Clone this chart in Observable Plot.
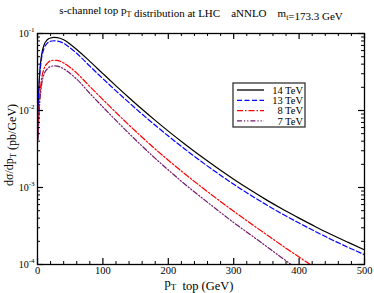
<!DOCTYPE html>
<html><head><meta charset="utf-8">
<script src="https://cdn.jsdelivr.net/npm/d3@7"></script>
<script src="https://cdn.jsdelivr.net/npm/@observablehq/plot@0.6"></script>
<style>
body{margin:0;background:#fff}
#chart svg{font-family:"Liberation Serif","Times New Roman",serif;}
</style>
</head><body><div id="chart"></div>
<script>
// ---- data ----
const pT = [1,2,3,5,7,10,15,20,25,30,40,50,60,80,100,120,140,160,180,200,225,250,275,300,325,350,375,400,425,450,475,500];
const tev14 = [0.010,0.019,0.028,0.044,0.057,0.071,0.083,0.0875,0.0888,0.0885,0.083,0.0725,0.062,0.0435,0.0301,0.0209,0.01466,0.01038,0.00745,0.0054,0.00367,0.00254,0.00179,0.00128,0.000932,0.000691,0.000521,0.0004,0.00031,0.000244,0.000194,0.000155];
const tev13 = [0.0092,0.0175,0.0255,0.040,0.052,0.064,0.075,0.0793,0.0805,0.080,0.0745,0.065,0.0553,0.0377,0.0259,0.018,0.01265,0.00895,0.00643,0.00466,0.00317,0.00219,0.00154,0.0011,0.000804,0.000596,0.00045,0.000345,0.000268,0.00021,0.000167,0.000134];
const tev8  = [0.005,0.009,0.0135,0.021,0.028,0.035,0.041,0.0442,0.0450,0.0447,0.0415,0.0362,0.0306,0.0205,0.01387,0.00942,0.00646,0.00449,0.00316,0.00226,0.00151,0.001027,0.000706,0.000491,0.000346,0.000245,0.000174,0.000125,0.00009,0.000065,null,null];
const tev7  = [0.0042,0.0076,0.0113,0.0177,0.0235,0.0295,0.0347,0.0372,0.0379,0.0376,0.0348,0.0302,0.0255,0.0167,0.0111,0.00743,0.00502,0.00344,0.00239,0.00169,0.00111,0.00075,0.00051,0.00035,0.000246,0.000172,0.00012,0.000084,null,null,null,null];
const seriesNames = ["14 TeV","13 TeV","8 TeV","7 TeV"];
const seriesValues = [tev14, tev13, tev8, tev7];
const seriesColors = ["#000000","#0000ff","#ff0000","#731c6b"];
const seriesDash = [null,"5,2.5","6,2,1.5,2","5,2,1.2,2,1.2,2"];
const xMajor = [0,100,200,300,400,500];
const xMinor = d3.range(0,501,20).filter(d=>d%100!==0);
const yMajor = [1e-4,1e-3,1e-2,1e-1];
const yMajorLabels = ["10^-4","10^-3","10^-2","10^-1"];
const yMinor = [1e-4,1e-3,1e-2].flatMap(b=>[2,3,4,5,6,7,8,9].map(k=>k*b));

// ---- layout ----
const W=374,H=293,mL=37,mR=10,mT=33,mB=29;
const fw=W-mL-mR, fh=H-mT-mB;

const rows=[];
seriesNames.forEach((n,i)=>pT.forEach((p,j)=>{const v=seriesValues[i][j]; if(v!=null) rows.push({pT:p,v,series:n});}));

const lineMarks = seriesNames.map((n,i)=>Plot.line(rows.filter(r=>r.series===n),{
  x:"pT", y:"v", stroke:seriesColors[i], strokeWidth:1.2,
  strokeDasharray:seriesDash[i]||undefined, curve:"monotone-x", clip:true
}));

const plot = Plot.plot({
  width:W, height:H, marginLeft:mL, marginRight:mR, marginTop:mT, marginBottom:mB,
  x:{domain:[0,500], axis:null},
  y:{type:"log", domain:[1e-4,1e-1], axis:null},
  style:{background:"#fff", fontFamily:"Liberation Serif, serif"},
  marks:[
    ...lineMarks,
    Plot.tickX(xMajor,{x:d=>d, insetTop:fh-6, stroke:"#000", strokeWidth:1.2}),
    Plot.tickX(xMinor,{x:d=>d, insetTop:fh-3, stroke:"#000", strokeWidth:1}),
    Plot.tickX(xMajor,{x:d=>d, insetBottom:fh-6, stroke:"#000", strokeWidth:1.2}),
    Plot.tickX(xMinor,{x:d=>d, insetBottom:fh-3, stroke:"#000", strokeWidth:1}),
    Plot.tickY(yMajor,{y:d=>d, insetRight:fw-6, stroke:"#000", strokeWidth:1.2}),
    Plot.tickY(yMinor,{y:d=>d, insetRight:fw-3, stroke:"#000", strokeWidth:1}),
    Plot.tickY(yMajor,{y:d=>d, insetLeft:fw-6, stroke:"#000", strokeWidth:1.2}),
    Plot.tickY(yMinor,{y:d=>d, insetLeft:fw-3, stroke:"#000", strokeWidth:1}),
    Plot.frame({stroke:"#000", strokeWidth:1.3}),
    Plot.text(xMajor,{x:d=>d, frameAnchor:"bottom", dy:2, lineAnchor:"top", text:d=>String(d), fontSize:10.5, fill:"#000"}),
    Plot.text(yMajor,{y:d=>d, frameAnchor:"left", dx:-3, textAnchor:"end", text:(d,i)=>yMajorLabels[i], fontSize:10, fill:"#000"})
  ]
});
document.getElementById("chart").appendChild(plot);

const svg = d3.select(plot);
svg.selectAll("text").each(function(){
  const t=d3.select(this); const s=t.text(); const m=s.match(/^10\^(.*)$/);
  if(m){ t.text(""); t.append("tspan").text("10"); t.append("tspan").attr("dy",-5).attr("font-size",7).text(m[1]); }
});

function rich(x,y,parts,size,anchor,transform){
  const t=svg.append("text").attr("x",x).attr("y",y).attr("font-size",size)
    .attr("text-anchor",anchor||"start").attr("fill","#000").style("white-space","pre");
  if(transform) t.attr("transform",transform);
  parts.forEach(([s,sub])=>{
    if(sub){ t.append("tspan").attr("dy",3).attr("font-size",size*0.72).text(s); t.append("tspan").attr("dy",-3).text(""); }
    else t.append("tspan").text(s);
  });
  return t;
}
rich(201,14,[["s-channel top p"],["T",1],[" distribution at LHC    aNNLO    m"],["t",1],["=173.3 GeV"]],11,"middle");
rich(199,287,[["p"],["T",1],["  top (GeV)"]],12.5,"middle");
rich(0,0,[["dσ/dp"],["T",1],[" (pb/GeV)"]],12,"middle","translate(13,145) rotate(-90)");

const lg = svg.append("g");
lg.append("rect").attr("x",233).attr("y",83).attr("width",72).attr("height",44)
  .attr("fill","#fff").attr("stroke","#333").attr("stroke-width",1.3);
seriesNames.forEach((n,i)=>{
  const y=90+i*10.3;
  lg.append("line").attr("x1",237).attr("x2",264).attr("y1",y).attr("y2",y)
    .attr("stroke",seriesColors[i]).attr("stroke-width",1.3)
    .attr("stroke-dasharray",seriesDash[i]||null);
  lg.append("text").attr("x",303).attr("y",y).attr("dy","0.35em").attr("text-anchor","end")
    .attr("font-size",10.5).attr("fill","#000").text(n);
});
</script>
</body></html>
